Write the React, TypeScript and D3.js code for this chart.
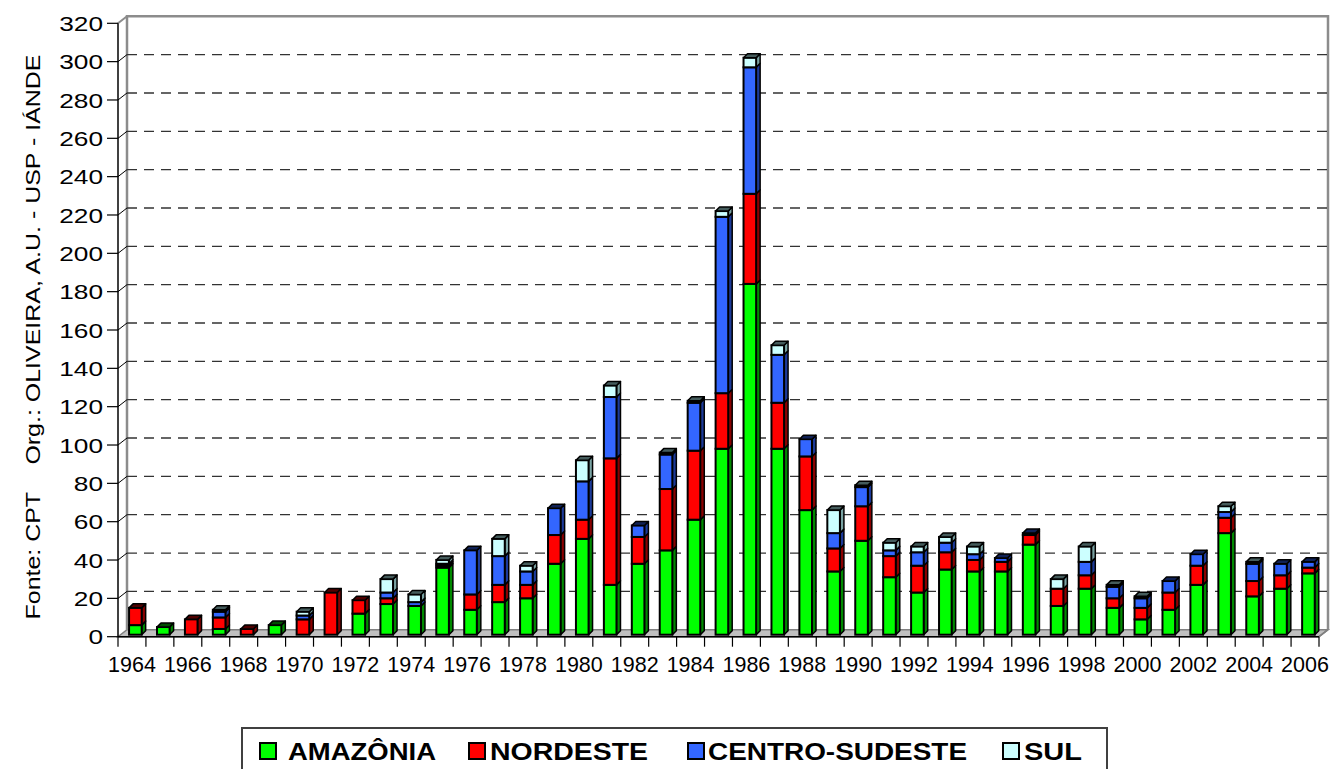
import React from 'react';
import * as d3 from 'd3';

const years = d3.range(1964, 2007).map(String);
const amazonia = [5, 4, 0, 3, 0, 5, 0, 0, 11, 16, 15, 35, 13, 17, 19, 37, 50, 26, 37, 44, 60, 97, 183, 97, 65, 33, 49, 30, 22, 34, 33, 33, 47, 15, 24, 14, 8, 13, 26, 53, 20, 24, 32];
const nordeste = [9, 0, 8, 6, 3, 0, 8, 22, 7, 3, 0, 1, 8, 9, 7, 15, 10, 66, 14, 32, 36, 29, 47, 24, 28, 12, 18, 11, 14, 9, 6, 5, 5, 9, 7, 5, 6, 9, 10, 8, 8, 7, 3];
const centroSudeste = [0, 0, 0, 3, 0, 0, 2, 0, 0, 3, 2, 1, 23, 15, 7, 14, 20, 32, 6, 18, 25, 92, 66, 25, 9, 8, 10, 3, 7, 5, 3, 2, 1, 0, 7, 6, 5, 6, 6, 3, 9, 6, 3];
const sul = [0, 0, 0, 1, 0, 0, 2, 0, 0, 7, 4, 2, 0, 9, 3, 0, 11, 6, 0, 1, 1, 3, 5, 5, 0, 12, 1, 4, 3, 3, 4, 0, 0, 5, 8, 1, 1, 0, 0, 3, 1, 0, 0];
const seriesNames = ['AMAZÔNIA', 'NORDESTE', 'CENTRO-SUDESTE', 'SUL'];
const seriesColors = ['#00ff00', '#ff0000', '#3366ff', '#ccffff'];
const sideColors = ['#008a00', '#8a0000', '#1c3a99', '#7aa3a3'];
const yTicks = d3.range(0, 321, 20);
const yTitle = 'Fonte: CPT    Org.: OLIVEIRA, A.U. - USP - IÁNDE';

const FONT = '"Liberation Sans", Arial, sans-serif';

// 3D offsets of the back wall
const WX = 9;
const WY = -7;

export default function App() {
  const x = d3.scaleBand().domain(years).range([118, 1319]);
  const y = d3.scaleLinear().domain([0, 320]).range([636.7, 23.3]);

  const rows = years.map((yr, i) => ({
    year: yr,
    a: amazonia[i],
    n: nordeste[i],
    c: centroSudeste[i],
    s: sul[i],
  }));
  const stack = d3.stack<any>().keys(['a', 'n', 'c', 's'])(rows);

  const bw = 12.6;
  const bx = (yr: string) => (x(yr) as number) + (x.bandwidth() - bw) / 2 + 3.4;
  const by = (v: number) => y(v) - 2;
  const dx = 4;
  const dy = 4;

  const left = x.range()[0];
  const right = x.range()[1];
  const y0 = y(0);

  // legend layout
  const legendItems = [
    { name: seriesNames[0], sw: 260, tx: 288, len: 148 },
    { name: seriesNames[1], sw: 469, tx: 490, len: 158 },
    { name: seriesNames[2], sw: 688, tx: 708, len: 259 },
    { name: seriesNames[3], sw: 1003, tx: 1024, len: 58 },
  ];

  return (
    <div style={{ position: 'fixed', left: 0, top: 0 }}>
      <svg width={1331} height={769} style={{ display: 'block', background: '#fff' }} fontFamily={FONT}>
        {/* floor */}
        <polygon
          points={`${left},${y0} ${right},${y0} ${right + WX},${y0 + WY} ${left + WX},${y0 + WY}`}
          fill="#c0c0c0"
          stroke="#808080"
          strokeWidth={1.5}
        />
        {/* back wall frame */}
        <path
          d={`M${left + WX},${y0 + WY} V${y(320) + WY} H${right + WX} V${y0 + WY}`}
          fill="none"
          stroke="#8c8c8c"
          strokeWidth={2.5}
        />
        <line x1={left} y1={y(320)} x2={left + WX} y2={y(320) + WY} stroke="#8c8c8c" strokeWidth={2} />

        {/* gridlines */}
        {yTicks.filter((t) => t > 0 && t < 320).map((t) => (
          <g key={t}>
            <line
              x1={left + WX}
              x2={right + WX}
              y1={y(t) + WY}
              y2={y(t) + WY}
              stroke="#333"
              strokeWidth={1.3}
              strokeDasharray="10,7"
            />
            <line x1={left} y1={y(t)} x2={left + WX} y2={y(t) + WY} stroke="#000" strokeWidth={1} />
          </g>
        ))}

        {/* y axis */}
        <line x1={left} x2={left} y1={y(320)} y2={y0} stroke="#000" strokeWidth={1.5} />
        {yTicks.map((t) => (
          <g key={t}>
            <line x1={left - 11} x2={left} y1={y(t)} y2={y(t)} stroke="#000" strokeWidth={1.2} />
            <text
              transform={`translate(103,${y(t)}) scale(1.25,1)`}
              dy="0.36em"
              textAnchor="end"
              fontSize={21}
              fill="#000"
            >
              {t}
            </text>
          </g>
        ))}

        {/* x axis */}
        <line x1={left} x2={right} y1={y0} y2={y0} stroke="#000" strokeWidth={1.5} />
        <line x1={right} y1={y0} x2={right + WX} y2={y0 + WY} stroke="#808080" strokeWidth={1.5} />
        {d3.range(years.length + 1).map((i) => {
          const xx = left + i * x.bandwidth();
          return <line key={i} x1={xx} x2={xx} y1={y0} y2={y0 + 10} stroke="#000" strokeWidth={1.2} />;
        })}
        {years.map((yr, i) =>
          i % 2 === 0 ? (
            <text
              key={yr}
              x={(x(yr) as number) + x.bandwidth() / 2}
              y={672}
              textAnchor="middle"
              fontSize={21.5}
              fill="#000"
            >
              {yr}
            </text>
          ) : null
        )}

        {/* bars */}
        {rows.map((r, i) => {
          const x0 = bx(r.year);
          const segs = stack
            .map((layer, k) => ({ k, lo: layer[i][0], hi: layer[i][1] }))
            .filter((s) => s.hi > s.lo);
          const total = stack[3][i][1];
          if (total <= 0) return null;
          const topSeg = segs[segs.length - 1];
          const yt = by(total);
          return (
            <g key={r.year}>
              {segs.map((s) => {
                const ya = by(s.hi);
                const yb = by(s.lo);
                return (
                  <g key={s.k}>
                    <polygon
                      points={`${x0 + bw},${yb} ${x0 + bw + dx},${yb - dy} ${x0 + bw + dx},${ya - dy} ${x0 + bw},${ya}`}
                      fill={sideColors[s.k]}
                      stroke="#000"
                      strokeWidth={1.5}
                      strokeLinejoin="round"
                    />
                    <rect
                      x={x0}
                      y={ya}
                      width={bw}
                      height={yb - ya}
                      fill={seriesColors[s.k]}
                      stroke="#000"
                      strokeWidth={2}
                    />
                  </g>
                );
              })}
              <polygon
                points={`${x0},${yt} ${x0 + dx},${yt - dy} ${x0 + bw + dx},${yt - dy} ${x0 + bw},${yt}`}
                fill={d3.color(sideColors[topSeg.k])!.darker(1.6).toString()}
                stroke="#000"
                strokeWidth={1.5}
                strokeLinejoin="round"
              />
            </g>
          );
        })}

        {/* y title */}
        <text
          transform="translate(40,337) rotate(-90)"
          textAnchor="middle"
          fontSize={21}
          fill="#000"
          style={{ whiteSpace: 'pre' }}
          textLength={565}
          lengthAdjust="spacingAndGlyphs"
        >
          {yTitle}
        </text>

        {/* legend */}
        <rect x={242} y={728} width={865} height={60} fill="#fff" stroke="#404040" strokeWidth={2} />
        {legendItems.map((it, k) => (
          <g key={it.name}>
            <rect x={it.sw} y={743} width={16} height={16} fill={seriesColors[k]} stroke="#000" strokeWidth={2} />
            <text
              x={it.tx}
              y={759.5}
              fontSize={23}
              fontWeight="bold"
              fill="#000"
              textLength={it.len}
              lengthAdjust="spacingAndGlyphs"
            >
              {it.name}
            </text>
          </g>
        ))}
      </svg>
    </div>
  );
}
